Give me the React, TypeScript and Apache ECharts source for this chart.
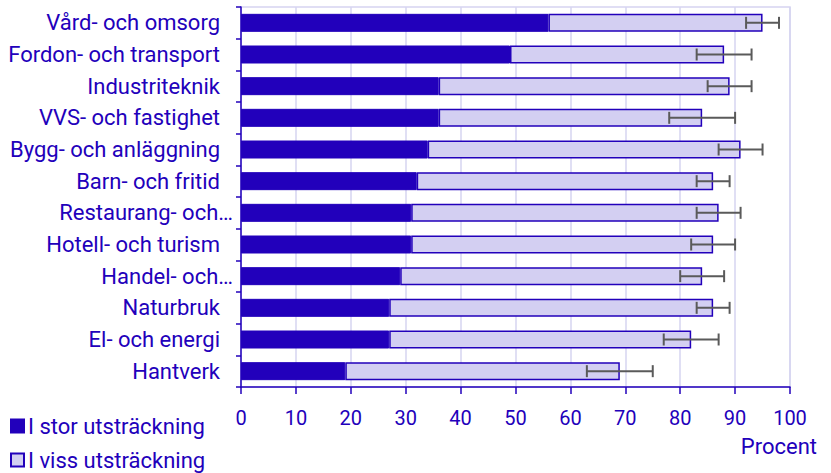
import React, { useEffect, useRef } from "react";
import * as echarts from "echarts";

const categories = [
  "Vård- och omsorg",
  "Fordon- och transport",
  "Industriteknik",
  "VVS- och fastighet",
  "Bygg- och anläggning",
  "Barn- och fritid",
  "Restaurang- och…",
  "Hotell- och turism",
  "Handel- och…",
  "Naturbruk",
  "El- och energi",
  "Hantverk",
];
const storValues = [56, 49, 36, 36, 34, 32, 31, 31, 29, 27, 27, 19];
const totalValues = [95, 88, 89, 84, 91, 86, 87, 86, 84, 86, 82, 69];
const errorMargins = [3, 5, 4, 6, 4, 3, 4, 4, 4, 3, 5, 6];
const xTicks = [0, 10, 20, 30, 40, 50, 60, 70, 80, 90, 100];
const seriesNames = ["I stor utsträckning", "I viss utsträckning"];

const DARK = "#2200bb";
const LIGHT = "#d3cff2";
const GRIDC = "#d6d4f1";
const FONT = "Roboto";
const FS = 22;

export default function App() {
  const ref = useRef<HTMLDivElement>(null);
  useEffect(() => {
    if (!ref.current) return;
    const chart = echarts.init(ref.current, undefined, { renderer: "svg" });
    const vissValues = totalValues.map((t, i) => t - storValues[i]);
    const errData = totalValues.map((t, i) => [t - errorMargins[i], t + errorMargins[i], i]);
    const legendBase = {
      left: 10,
      padding: 0,
      itemWidth: 13,
      itemHeight: 13,
      icon: "rect",
      textStyle: { color: DARK, fontSize: FS, fontFamily: FONT, padding: [0, 0, 0, -1] },
    };
    chart.setOption({
      animation: false,
      textStyle: { fontFamily: FONT },
      grid: {
        left: 241,
        right: 41,
        top: 7,
        bottom: 86,
        show: true,
        borderColor: GRIDC,
        borderWidth: 1.5,
      },
      legend: [
        { ...legendBase, top: 415, data: [seriesNames[0]] },
        { ...legendBase, top: 449, data: [seriesNames[1]] },
      ],
      xAxis: {
        type: "value",
        min: 0,
        max: 100,
        interval: 10,
        axisLine: { show: true, lineStyle: { color: DARK, width: 1.5 } },
        axisTick: { show: true, length: 7, lineStyle: { color: DARK, width: 1.5 } },
        axisLabel: {
          color: DARK,
          fontSize: 20,
          margin: 21,
          fontFamily: FONT,
          formatter: (v: number) => (xTicks.includes(v) ? String(v) : ""),
        },
        splitLine: { show: true, lineStyle: { color: GRIDC, width: 1.5 } },
      },
      yAxis: {
        type: "category",
        inverse: true,
        data: categories,
        axisLine: { show: true, lineStyle: { color: DARK, width: 1.5 } },
        axisTick: { show: true, length: 5, lineStyle: { color: DARK, width: 1.5 } },
        axisLabel: {
          color: DARK,
          fontSize: FS,
          margin: 8,
          fontFamily: FONT,
          formatter: (v: string) => (v.endsWith("…") ? v : "{a|" + v + "}"),
          rich: {
            a: { color: DARK, fontSize: FS, fontFamily: FONT, padding: [0, 13, 0, 0] },
          },
        },
      },
      graphic: [
        {
          type: "text",
          right: 14,
          top: 435,
          style: { text: "Procent", fill: DARK, fontSize: FS, fontFamily: FONT },
        },
      ],
      series: [
        {
          name: seriesNames[0],
          type: "bar",
          stack: "t",
          barWidth: 18,
          data: storValues,
          itemStyle: { color: DARK, borderColor: DARK, borderWidth: 1 },
        },
        {
          name: seriesNames[1],
          type: "bar",
          stack: "t",
          barWidth: 18,
          data: vissValues,
          itemStyle: { color: LIGHT, borderColor: DARK, borderWidth: 1.5 },
        },
        {
          type: "custom",
          name: "err",
          encode: { x: [0, 1], y: 2 },
          data: errData,
          z: 10,
          renderItem: (params: any, api: any) => {
            const lo = api.coord([api.value(0), api.value(2)]);
            const hi = api.coord([api.value(1), api.value(2)]);
            const h = 6;
            const style = { stroke: "#5a5a5a", lineWidth: 2 };
            return {
              type: "group",
              children: [
                { type: "line", shape: { x1: lo[0], y1: lo[1], x2: hi[0], y2: hi[1] }, style },
                { type: "line", shape: { x1: lo[0], y1: lo[1] - h, x2: lo[0], y2: lo[1] + h }, style },
                { type: "line", shape: { x1: hi[0], y1: hi[1] - h, x2: hi[0], y2: hi[1] + h }, style },
              ],
            };
          },
        },
      ],
    });
    return () => chart.dispose();
  }, []);
  return <div ref={ref} style={{ width: 831, height: 473, position: "absolute", left: 0, top: 0 }} />;
}
